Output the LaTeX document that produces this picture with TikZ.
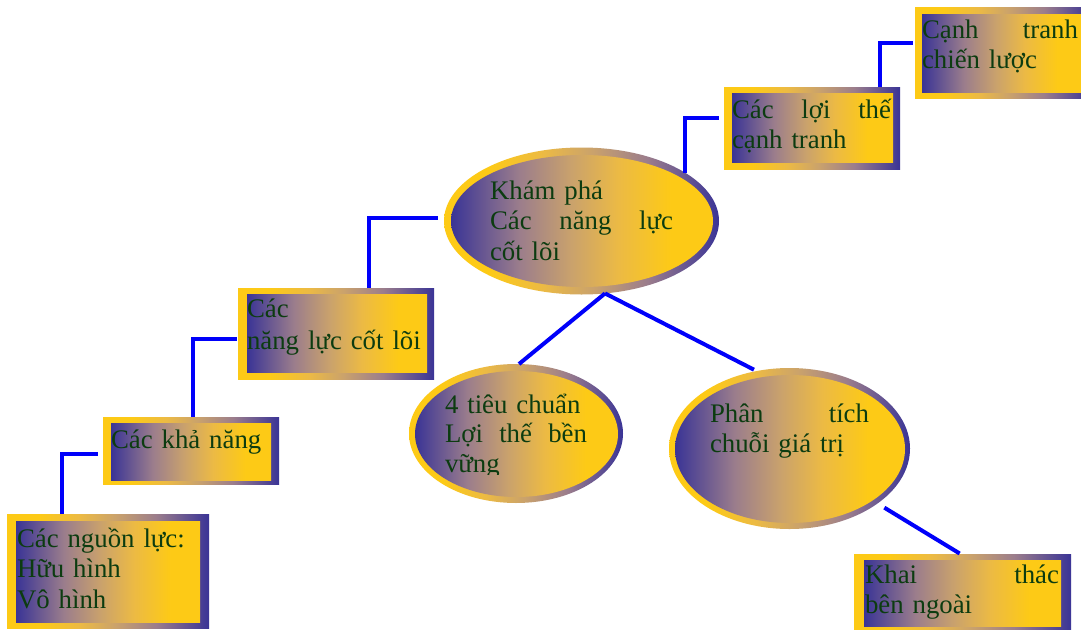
\documentclass[tikz,border=0pt]{standalone}
\usepackage{fontspec}
\setmainfont{Liberation Serif}
\usetikzlibrary{shapes.geometric}

\definecolor{navy}{RGB}{58,52,150}
\definecolor{gold}{RGB}{253,202,22}
\definecolor{mauve}{RGB}{155,125,140}
\definecolor{sandtone}{RGB}{202,162,108}
\definecolor{amber}{RGB}{236,186,68}
\definecolor{leaf}{RGB}{12,60,16}
\definecolor{wire}{RGB}{0,0,250}

% navy on the left fading to gold on the right, and the reverse
\pgfdeclarehorizontalshading{navygold}{100bp}{color(0bp)=(navy); color(25bp)=(navy); color(38bp)=(mauve); color(48bp)=(sandtone); color(57bp)=(amber); color(67bp)=(gold); color(100bp)=(gold)}
\pgfdeclarehorizontalshading{goldnavy}{100bp}{color(0bp)=(gold); color(33bp)=(gold); color(43bp)=(amber); color(52bp)=(sandtone); color(62bp)=(mauve); color(75bp)=(navy); color(100bp)=(navy)}

% a justified line of a given width in pt
\newcommand\spreadline[2]{\leavevmode\hbox to #1pt{#2}}

\tikzset{
  ring/.style={shading=goldnavy, draw=none, inner sep=0pt, outer sep=0pt},
  core/.style={shading=navygold, draw=none, inner sep=0pt, outer sep=0pt},
  conn/.style={draw=wire, line width=4pt},
  txt/.style={text=leaf, inner sep=0pt, outer sep=0pt, anchor=base west,
              align=left, text width=260pt},
}

\begin{document}
\begin{tikzpicture}[x=1pt, y=-1pt]
\useasboundingbox (0,0) rectangle (1081,629);
\fill[white] (0,0) rectangle (1081,629);
\clip (0,0) rectangle (1081,629);

% ---- framed boxes: outer frame, then inner panel ----
\node[ring, rectangle, minimum width=202pt, minimum height=114pt] (b1o) at (108,571) {};
\node[core, rectangle, minimum width=184pt, minimum height=101pt] (b1i) at (108,571.5) {};

\node[ring, rectangle, minimum width=176pt, minimum height=67pt] (b2o) at (191,450.5) {};
\node[core, rectangle, minimum width=160pt, minimum height=57pt] (b2i) at (191,451.5) {};

\node[ring, rectangle, minimum width=196pt, minimum height=91pt] (b3o) at (336,333.5) {};
\node[core, rectangle, minimum width=180pt, minimum height=78pt] (b3i) at (337,333) {};

\node[ring, rectangle, minimum width=176pt, minimum height=82pt] (b4o) at (812,128) {};
\node[core, rectangle, minimum width=161pt, minimum height=69pt] (b4i) at (812.5,127.5) {};

\node[ring, rectangle, minimum width=175pt, minimum height=91pt] (b5o) at (1002.5,52.5) {};
\node[core, rectangle, minimum width=161pt, minimum height=78pt] (b5i) at (1002.5,53) {};

\node[ring, rectangle, minimum width=217pt, minimum height=77pt] (b6o) at (962.5,592.5) {};
\node[core, rectangle, minimum width=197pt, minimum height=66pt] (b6i) at (962.5,593) {};

% ---- ovals ----
\node[ring, ellipse, minimum width=275pt, minimum height=147pt] (e1o) at (581.5,221) {};
\node[core, ellipse, minimum width=262pt, minimum height=132pt] (e1i) at (582,221) {};

\node[ring, ellipse, minimum width=214pt, minimum height=139pt] (e2o) at (516,433.5) {};
\node[core, ellipse, minimum width=203pt, minimum height=126pt] (e2i) at (516.5,434) {};

\node[ring, ellipse, minimum width=241pt, minimum height=161pt] (e3o) at (789.5,448.5) {};
\node[core, ellipse, minimum width=230pt, minimum height=148pt] (e3i) at (790,449) {};

% ---- connectors ----
\coordinate (j1) at (62,454);
\coordinate (j2) at (193,339);
\coordinate (j3) at (369,218);
\coordinate (j4) at (684,118);
\coordinate (j5) at (880,43);

\draw[conn] (b1o.north -| j1) |- ([xshift=-5pt]b2o.west |- j1);
\draw[conn] (b2o.north -| j2) |- ([xshift=-1pt]b3o.west |- j2);
\draw[conn] (b3o.north -| j3) |- ([xshift=-6pt]e1o.west |- j3);
\draw[conn] (e1o.25.6) |- ([xshift=-5pt]b4o.west |- j4);
\draw[conn] (b4o.north -| j5) |- ([xshift=-2pt]b5o.west |- j5);
\draw[conn] (e1o.-72) -- ([xshift=3pt]e2o.north);
\draw[conn, shorten >=3pt] (e1o.-72) -- (e3o.113.8);
\draw[conn, shorten <=8pt, shorten >=1pt] (e3o.-32.6) -- ([xshift=-2pt]b6o.north);

% ---- labels ----
\tikzset{every node/.append style={font=\fontsize{26.8pt}{30.5pt}\selectfont}}
\node[txt] (t1) at (17,547)
  {Các nguồn lực:\\Hữu hình\\Vô hình};
\node[txt] (t2) at (111,448)
  {Các khả năng};
\node[txt, font=\fontsize{26.8pt}{32.5pt}\selectfont] (t3) at (247,317)
  {Các\\năng lực cốt lõi};
\node[txt] (t4) at (490,199)
  {Khám phá\\\spreadline{183}{Các\hfill năng\hfill lực}\\cốt lõi};
\node[txt, font=\fontsize{26.8pt}{30pt}\selectfont] (t5) at (732,118)
  {\spreadline{159}{Các\hfill lợi\hfill thế}\\cạnh tranh};
\node[txt, font=\fontsize{26.8pt}{30pt}\selectfont] (t6) at (922,38)
  {\spreadline{156}{Cạnh\hfill tranh}\\chiến lược};
\begin{scope}
  \clip (400,360) rectangle (630,474);
  \node[txt, font=\fontsize{26.8pt}{29.5pt}\selectfont] (t7) at (445,413)
    {4 tiêu chuẩn\\\spreadline{142}{Lợi\hfill thế\hfill bền}\\vững};
\end{scope}
\node[txt, font=\fontsize{26.8pt}{30pt}\selectfont] (t8) at (710,422)
  {\spreadline{159}{Phân\hfill tích}\\chuỗi giá trị};
\node[txt, font=\fontsize{26.8pt}{30pt}\selectfont] (t9) at (865,583)
  {\spreadline{194}{Khai\hfill thác}\\bên ngoài};
\end{tikzpicture}
\end{document}
